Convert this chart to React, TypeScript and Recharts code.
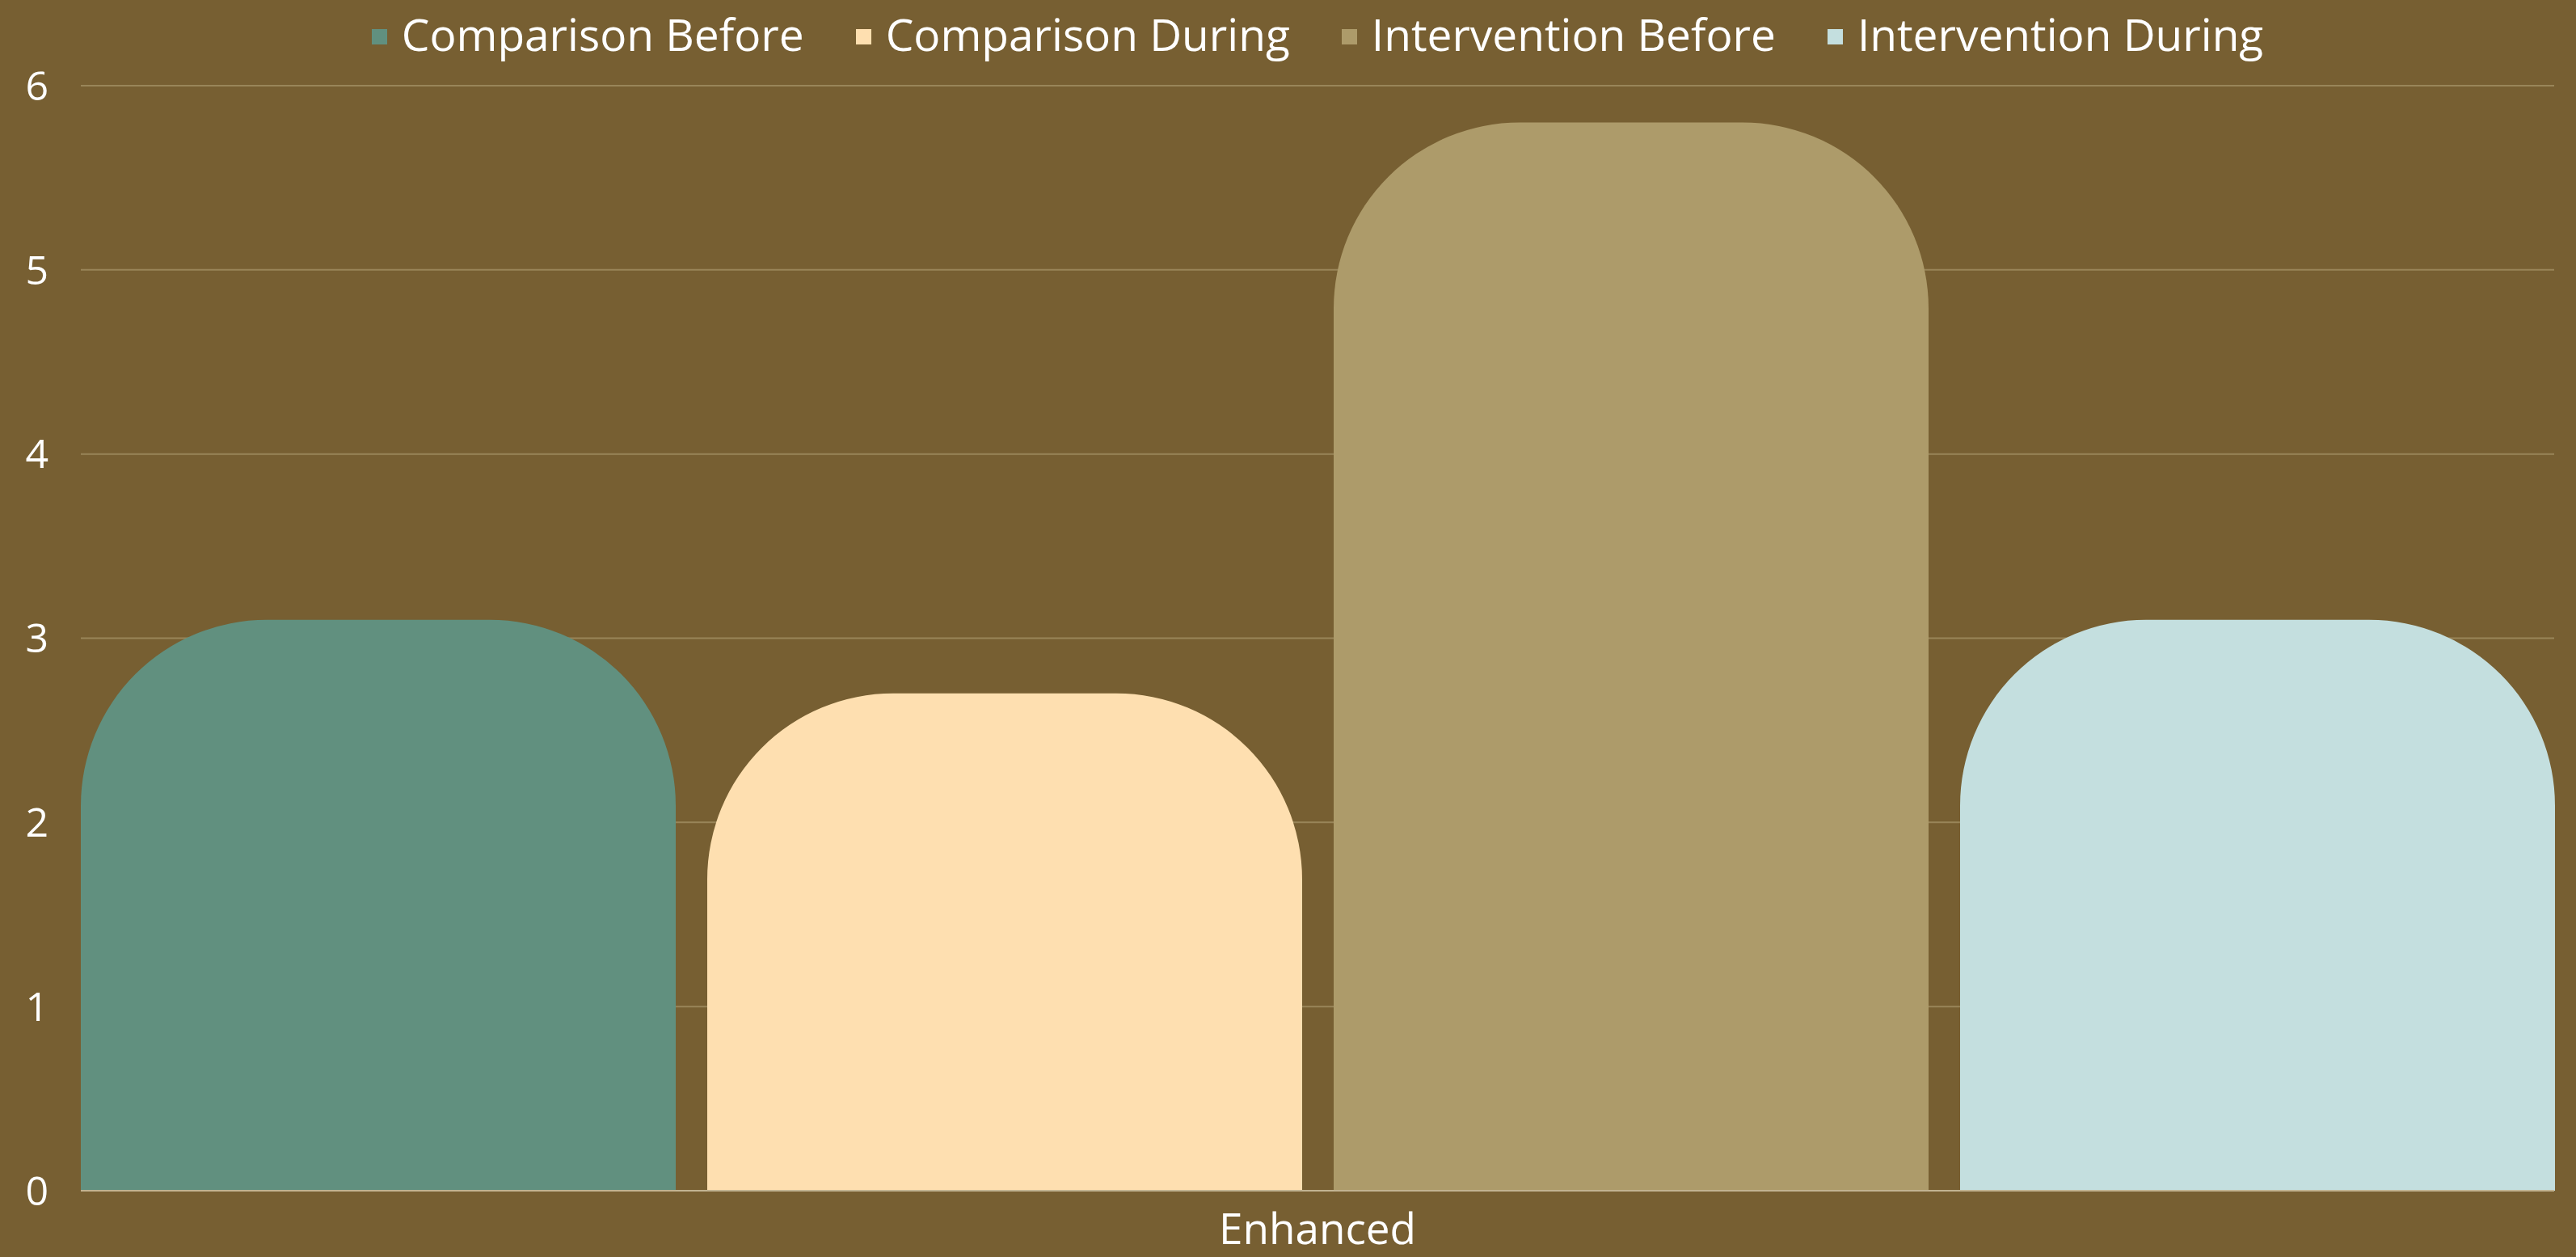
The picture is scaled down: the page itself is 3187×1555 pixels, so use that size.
import React from 'react';
import { BarChart, Bar, XAxis, YAxis, CartesianGrid, Legend } from 'recharts';

const categories = ['Enhanced'];
const comparisonBefore = [3.1];
const comparisonDuring = [2.7];
const interventionBefore = [5.8];
const interventionDuring = [3.1];
const yTicks = [0, 1, 2, 3, 4, 5, 6];

const series = [
  { key: 'Comparison Before', values: comparisonBefore, color: '#61907F' },
  { key: 'Comparison During', values: comparisonDuring, color: '#FEDFB0' },
  { key: 'Intervention Before', values: interventionBefore, color: '#AD9B6A' },
  { key: 'Intervention During', values: interventionDuring, color: '#C4DFDF' },
];

const data = categories.map((name, i) => {
  const row: any = { name };
  series.forEach((s) => {
    row[s.key] = s.values[i];
  });
  return row;
});

const FONT = '"Open Sans", sans-serif';

const renderLegend = (props: any) => {
  const { payload } = props;
  return (
    <div
      style={{
        height: 80,
        boxSizing: 'border-box',
        display: 'flex',
        justifyContent: 'center',
        alignItems: 'flex-start',
        paddingTop: 4,
        fontFamily: FONT,
        fontSize: 55,
        lineHeight: '76px',
        color: '#FFFFFF',
      }}
    >
      {payload.map((entry: any) => (
        <div key={entry.value} style={{ display: 'flex', alignItems: 'center', margin: '0 32px' }}>
          <span style={{ width: 19, height: 19, background: entry.color, marginRight: 18, marginTop: 6 }} />
          <span>{entry.value}</span>
        </div>
      ))}
    </div>
  );
};

const App: React.FC = () => {
  return (
    <div style={{ position: 'absolute', left: 0, top: 0, width: 3187, height: 1555, background: '#775F32' }}>
      <BarChart
        width={3187}
        height={1555}
        data={data}
        barCategoryGap={0}
        barGap={39}
        margin={{ top: 26, right: 27, left: 0, bottom: 22 }}
      >
        <CartesianGrid vertical={false} stroke="#998559" strokeWidth={2} />
        <XAxis
          dataKey="name"
          tickLine={false}
          axisLine={{ stroke: '#C2B391', strokeWidth: 2 }}
          tickMargin={22}
          height={60}
          tick={{ fill: '#FFFFFF', fontSize: 53, fontFamily: FONT }}
        />
        <YAxis
          domain={[0, 6]}
          ticks={yTicks}
          width={100}
          axisLine={false}
          tickLine={false}
          tickMargin={34}
          tick={{ fill: '#FFFFFF', fontSize: 50, fontFamily: FONT }}
        />
        <Legend
          verticalAlign="top"
          align="center"
          content={renderLegend}
          wrapperStyle={{ top: 0, left: 100, width: 3060 }}
        />
        {series.map((s) => (
          <Bar
            key={s.key}
            dataKey={s.key}
            fill={s.color}
            radius={[230, 230, 0, 0]}
            isAnimationActive={false}
          />
        ))}
      </BarChart>
    </div>
  );
};

export default App;
